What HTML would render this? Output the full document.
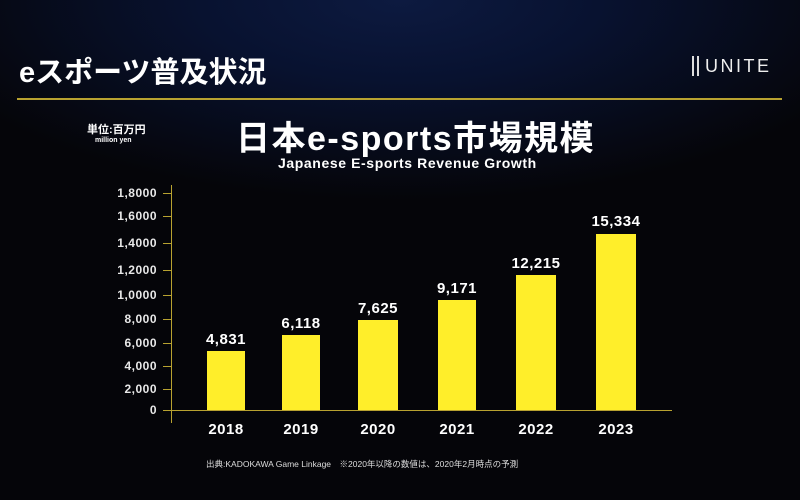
<!DOCTYPE html>
<html><head><meta charset="utf-8"><style>
html,body{margin:0;padding:0}
body{width:800px;height:500px;overflow:hidden;position:relative;background:#050509;font-family:"Liberation Sans","Noto Sans CJK JP",sans-serif;color:#fff}
.bg{position:absolute;left:0;top:0;width:800px;height:500px;background:radial-gradient(ellipse 500px 200px at 400px 0px,#0d1a40 0%,#081230 40%,#050509 100%)}
.a{position:absolute;white-space:nowrap}
.yl{position:absolute;right:643px;font-size:12px;font-weight:bold;color:#e8e8e8;letter-spacing:0.5px}
.bar{position:absolute;background:#ffee2a}
.v{position:absolute;width:80px;text-align:center;font-size:15px;font-weight:bold;letter-spacing:0.5px}
.yr{position:absolute;width:80px;text-align:center;font-size:15px;font-weight:bold;top:421px;letter-spacing:0.5px}
</style></head><body>
<div class="bg"></div>
<div class="a" style="left:19px;top:49px;font-size:29px;font-weight:bold">eスポーツ普及状況</div>
<div class="a" style="left:692px;top:56px;font-size:18px;letter-spacing:2.5px;color:#eee"><span style="display:inline-block;width:3px;height:20px;border-left:2px solid #ddd;border-right:2px solid #ddd;vertical-align:-4px;margin-right:6px"></span>UNITE</div>
<div class="a" style="left:17px;top:98px;width:765px;height:2px;background:#b8a230"></div>
<div class="a" style="left:87px;top:121px;font-size:11px;font-weight:bold">単位:百万円</div>
<div class="a" style="left:95px;top:137px;font-size:7px;font-weight:bold">million yen</div>
<div class="a" style="left:236px;top:111px;font-size:34px;font-weight:bold;letter-spacing:1.5px">日本e-sports市場規模</div>
<div class="a" style="left:278px;top:155px;font-size:14px;font-weight:bold;letter-spacing:0.6px">Japanese E-sports Revenue Growth</div>
<div class="a" style="left:171px;top:185px;width:1px;height:238px;background:#b8a230"></div>
<div class="a" style="left:163px;top:410px;width:509px;height:1px;background:#b8a230"></div>
<div class="a" style="left:163px;top:193px;width:8px;height:1px;background:#b8a230"></div>
<div class="a" style="left:163px;top:216px;width:8px;height:1px;background:#b8a230"></div>
<div class="a" style="left:163px;top:243px;width:8px;height:1px;background:#b8a230"></div>
<div class="a" style="left:163px;top:270px;width:8px;height:1px;background:#b8a230"></div>
<div class="a" style="left:163px;top:295px;width:8px;height:1px;background:#b8a230"></div>
<div class="a" style="left:163px;top:319px;width:8px;height:1px;background:#b8a230"></div>
<div class="a" style="left:163px;top:343px;width:8px;height:1px;background:#b8a230"></div>
<div class="a" style="left:163px;top:366px;width:8px;height:1px;background:#b8a230"></div>
<div class="a" style="left:163px;top:389px;width:8px;height:1px;background:#b8a230"></div>
<div class="yl" style="top:186px">1,8000</div>
<div class="yl" style="top:209px">1,6000</div>
<div class="yl" style="top:236px">1,4000</div>
<div class="yl" style="top:263px">1,2000</div>
<div class="yl" style="top:288px">1,0000</div>
<div class="yl" style="top:312px">8,000</div>
<div class="yl" style="top:336px">6,000</div>
<div class="yl" style="top:359px">4,000</div>
<div class="yl" style="top:382px">2,000</div>
<div class="yl" style="top:403px">0</div>
<div class="bar" style="left:207px;top:351px;width:38px;height:59px"></div>
<div class="bar" style="left:282px;top:335px;width:38px;height:75px"></div>
<div class="bar" style="left:358px;top:320px;width:40px;height:90px"></div>
<div class="bar" style="left:438px;top:300px;width:38px;height:110px"></div>
<div class="bar" style="left:516px;top:275px;width:40px;height:135px"></div>
<div class="bar" style="left:596px;top:234px;width:40px;height:176px"></div>
<div class="v" style="left:186px;top:331px">4,831</div>
<div class="v" style="left:261px;top:315px">6,118</div>
<div class="v" style="left:338px;top:300px">7,625</div>
<div class="v" style="left:417px;top:280px">9,171</div>
<div class="v" style="left:496px;top:255px">12,215</div>
<div class="v" style="left:576px;top:213px">15,334</div>
<div class="yr" style="left:186px">2018</div>
<div class="yr" style="left:261px">2019</div>
<div class="yr" style="left:338px">2020</div>
<div class="yr" style="left:417px">2021</div>
<div class="yr" style="left:496px">2022</div>
<div class="yr" style="left:576px">2023</div>
<div class="a" style="left:206px;top:458px;font-size:8.5px;color:#ddd">出典:KADOKAWA Game Linkage　※2020年以降の数値は、2020年2月時点の予測</div>
</body></html>
